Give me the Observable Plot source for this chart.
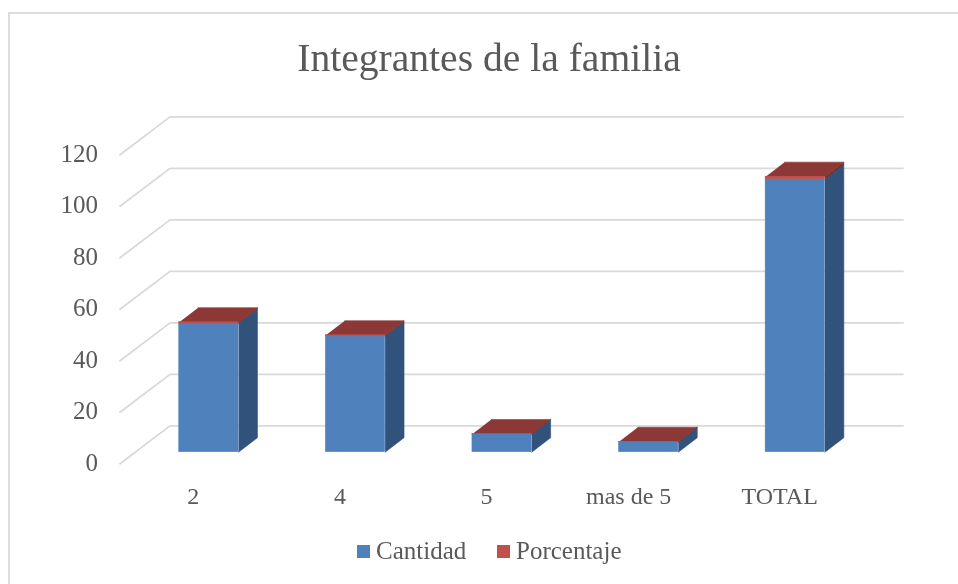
<!DOCTYPE html>
<html><head><meta charset="utf-8">
<script src="https://cdn.jsdelivr.net/npm/d3@7"></script>
<script src="https://cdn.jsdelivr.net/npm/@observablehq/plot@0.6"></script>
<style>
html,body{margin:0;padding:0;background:#fff;overflow:hidden}
#page{position:relative;width:958px;height:584px;overflow:hidden;font-family:"Liberation Serif",serif;color:#595959;filter:blur(0.45px)}
#frame{position:absolute;left:8px;top:12px;width:1000px;height:620px;border:2px solid #dcdcdc;box-sizing:border-box}
#title{position:absolute;left:0;top:34px;width:978px;text-align:center;font-size:39.6px;line-height:48px;white-space:nowrap}
#chart{position:absolute;left:0;top:90px}
#legend{position:absolute;top:537px;left:0;width:958px;height:28px;font-size:25px;line-height:28px}
#legend span{position:absolute;white-space:nowrap}
#legend i{position:absolute;width:13px;height:13px;top:8px}
</style></head><body>
<div id="page"><div id="frame"></div>
<div id="title">Integrantes de la familia</div>
<div id="chart"></div>
<div id="legend">
<i style="left:357px;background:#4f81bd"></i><span style="left:376px">Cantidad</span>
<i style="left:497px;background:#c0504d"></i><span style="left:516px">Porcentaje</span>
</div></div>
<script>
const categories = ["2","4","5","mas de 5","TOTAL"];
const cantidad = [50,45,7,4,106];
const porcentaje = [0.47,0.42,0.07,0.04,1];
const yTicks = [0,20,40,60,80,100,120];
const labelAt = [0.5,1.5,2.5,3.47,4.5];

// 3-D projection, in data units
const wallX = 0.341, wallY = 14.74;
const floorX = 0.104, floorY = 4.5;
const barStart = 0.3, barWidth = 0.4045;
const barDX = 0.129, barDY = 5.65;

const grid = yTicks.flatMap(v => [
  {v, x:0, y:v},
  {v, x:wallX, y:v+wallY},
  {v, x:categories.length+wallX, y:v+wallY}
]);

const faces = [];
const fronts = [];
categories.forEach((c,i)=>{
  const x1=i+barStart+floorX, x2=x1+barWidth;
  const y0=floorY, y1=y0+cantidad[i], y2=y1+porcentaje[i];
  const poly=(id,fill,pts)=>pts.forEach(([x,y])=>faces.push({id:c+id,fill,x,y}));
  poly("s1","#31527b",[[x2,y0],[x2+barDX,y0+barDY],[x2+barDX,y1+barDY],[x2,y1]]);
  poly("s2","#6f3030",[[x2,y1],[x2+barDX,y1+barDY],[x2+barDX,y2+barDY],[x2,y2]]);
  poly("t","#8c3836",[[x1,y2],[x2,y2],[x2+barDX,y2+barDY],[x1+barDX,y2+barDY]]);
  fronts.push({x1,x2,y1:y0,y2:y1,fill:"#4f81bd"});
  fronts.push({x1,x2,y1:y1,y2:y2,fill:"#c0504d"});
});

const plot = Plot.plot({
  width:958, height:430,
  marginLeft:119.5, marginRight:105.5, marginTop:64.3, marginBottom:56.7,
  x:{domain:[0,categories.length]},
  y:{domain:[0,120]},
  style:{background:"transparent",fontFamily:"'Liberation Serif',serif",fontSize:"24px",color:"#595959"},
  marks:[
    Plot.line(grid,{x:"x",y:"y",z:"v",stroke:"#d9d9d9",strokeWidth:1.8,curve:"linear"}),
    Plot.line(faces,{x:"x",y:"y",z:"id",fill:"fill",stroke:"fill",strokeWidth:0.6,curve:"linear"}),
    Plot.rect(fronts,{x1:"x1",x2:"x2",y1:"y1",y2:"y2",fill:"fill",stroke:"fill",strokeWidth:0.5}),
    Plot.axisY({ticks:yTicks,tickSize:0,tickPadding:22,label:null,fontSize:25,fill:"#595959",dy:-1}),
    Plot.axisX({ticks:labelAt,tickFormat:t=>categories[labelAt.indexOf(t)],tickSize:0,tickPadding:24,label:null,fontSize:24,fill:"#595959",dy:-1})
  ]
});
document.getElementById("chart").appendChild(plot);
</script></body></html>
